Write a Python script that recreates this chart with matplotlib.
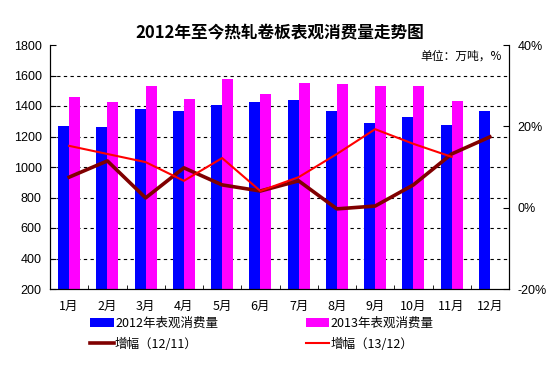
import numpy as np
import matplotlib
matplotlib.use('Agg')
import matplotlib.pyplot as plt
from matplotlib.ticker import FuncFormatter, FixedLocator

plt.rcParams['font.family'] = ['Noto Sans CJK SC', 'DejaVu Sans']

# 数据
months = ['1月', '2月', '3月', '4月', '5月', '6月', '7月', '8月', '9月', '10月', '11月', '12月']
vol_2012 = [1268, 1262, 1378, 1366, 1405, 1425, 1438, 1366, 1288, 1327, 1273, 1366]
vol_2013 = [1458, 1425, 1530, 1445, 1575, 1478, 1550, 1543, 1530, 1530, 1432]
growth_12_11 = [7.5, 11.5, 2.4, 9.8, 5.6, 4.1, 6.6, -0.3, 0.4, 5.6, 13.2, 17.4]
growth_13_12 = [15.2, 13.2, 11.2, 6.6, 12.2, 4.1, 7.5, 13.2, 19.3, 15.7, 12.5]

fig = plt.figure(figsize=(5.54, 3.67), dpi=100)
ax = fig.add_axes([50/554, 1-289/367, 459/554, 244/367])

x = np.arange(len(months))
w = 0.29
b1 = ax.bar(x[:len(vol_2012)] - w/2, vol_2012, w, color='#0000FF', label='2012年表观消费量', zorder=2)
b2 = ax.bar(x[:len(vol_2013)] + w/2, vol_2013, w, color='#FF00FF', label='2013年表观消费量', zorder=2)
ax.set_ylim(200, 1800)
ax.set_xlim(-0.5, 11.5)
ax.set_yticks(range(200, 1801, 200))
for v in range(400, 1601, 200):
    ax.axhline(v, color='black', lw=0.8, ls=(0, (3, 3)), zorder=1)
ax.set_xticks(x)
ax.set_xticklabels(months, fontsize=9)
ax.xaxis.set_minor_locator(FixedLocator(np.arange(-0.5, 12, 1)))
ax.tick_params(axis='x', which='major', length=0, pad=8)
ax.tick_params(axis='x', which='minor', direction='in', length=3)
ax.tick_params(axis='y', direction='in', length=4, labelsize=9, pad=6)
for lab in ax.get_yticklabels():
    lab.set_family(['Liberation Sans'])
ax.spines['top'].set_visible(False)

ax2 = ax.twinx()
l1, = ax2.plot(x[:len(growth_12_11)], growth_12_11, color='#800000', lw=2.6, label='增幅（12/11）', zorder=3)
l2, = ax2.plot(x[:len(growth_13_12)], growth_13_12, color='#FF0000', lw=1.5, label='增幅（13/12）', zorder=3)
ax2.set_ylim(-20, 40)
ax2.set_yticks([-20, 0, 20, 40])
ax2.yaxis.set_major_formatter(FuncFormatter(lambda v, p: f'{v:.0f}%'))
ax2.tick_params(axis='y', direction='in', length=4, labelsize=9, pad=6)
for lab in ax2.get_yticklabels():
    lab.set_family(['Liberation Sans'])
ax2.spines['top'].set_visible(False)

fig.text(0.5*(50+509)/554, 1-33/367, '2012年至今热轧卷板表观消费量走势图', ha='center', va='center',
         fontsize=12, fontweight='bold')
ax.text(0.985, 0.955, '单位：万吨，%', transform=ax.transAxes, ha='right', va='center', fontsize=8.5)

fig.legend([b1, l1, b2, l2], ['2012年表观消费量', '增幅（12/11）', '2013年表观消费量', '增幅（13/12）'],
           ncol=2, loc='upper left', bbox_to_anchor=(90/554, 1-317/367), frameon=False,
           fontsize=9, handlelength=1.9, handleheight=0.7, handletextpad=0.1,
           columnspacing=7.0, labelspacing=0.6, borderpad=0, borderaxespad=0)

fig.savefig('out.png', dpi=100)
